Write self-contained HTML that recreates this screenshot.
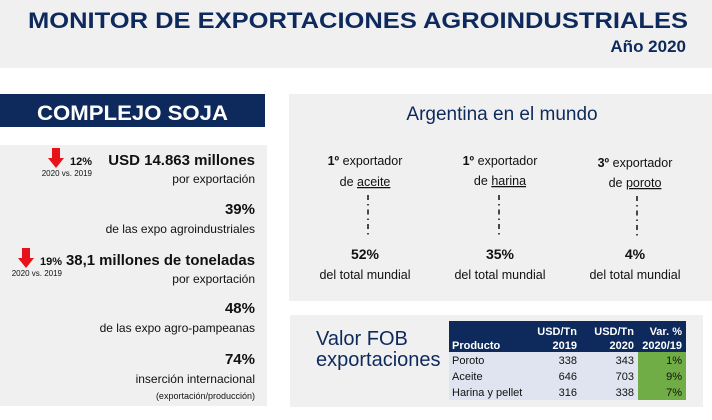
<!DOCTYPE html>
<html><head><meta charset="utf-8"><style>
html,body{margin:0;padding:0;background:#fff;}
svg{display:block;font-family:"Liberation Sans",sans-serif;}
</style></head><body>
<svg width="712" height="420" viewBox="0 0 712 420" xmlns="http://www.w3.org/2000/svg">
<rect x="0" y="0" width="712" height="68" fill="#f0f0f0"/>
<text x="28" y="28" font-size="22.5" font-weight="bold" fill="#0e2a5c" textLength="660" lengthAdjust="spacingAndGlyphs">MONITOR DE EXPORTACIONES AGROINDUSTRIALES</text>
<text x="686" y="52" font-size="17" font-weight="bold" fill="#0e2a5c" text-anchor="end">Año 2020</text>

<rect x="0" y="94" width="265" height="33" fill="#0e2a5c"/>
<text x="37" y="120" font-size="21" font-weight="bold" fill="#fff" textLength="191" lengthAdjust="spacingAndGlyphs">COMPLEJO SOJA</text>

<rect x="0" y="145" width="267" height="261" fill="#f0f0f0"/>
<g fill="#111" text-anchor="end">
<text x="255" y="165" font-size="15" font-weight="bold">USD 14.863 millones</text>
<text x="255" y="183" font-size="12">por exportación</text>
<text x="255" y="214" font-size="15" font-weight="bold">39%</text>
<text x="255" y="233" font-size="12">de las expo agroindustriales</text>
<text x="255" y="265" font-size="15" font-weight="bold" textLength="189" lengthAdjust="spacingAndGlyphs">38,1 millones de toneladas</text>
<text x="255" y="283" font-size="12">por exportación</text>
<text x="255" y="313" font-size="15" font-weight="bold">48%</text>
<text x="255" y="332" font-size="12">de las expo agro-pampeanas</text>
<text x="255" y="364" font-size="15" font-weight="bold">74%</text>
<text x="255" y="383" font-size="12">inserción internacional</text>
<text x="255" y="399" font-size="9">(exportación/producción)</text>
<text x="92" y="165" font-size="11" font-weight="bold">12%</text>
<text x="92" y="176" font-size="8">2020 vs. 2019</text>
<text x="62" y="265" font-size="11" font-weight="bold">19%</text>
<text x="62" y="276" font-size="8">2020 vs. 2019</text>
</g>
<polygon points="52,148 60,148 60,158 64,158 56,168 48,158 52,158" fill="#e8121b"/>
<polygon points="22,248 30,248 30,258 34,258 26,268 18,258 22,258" fill="#e8121b"/>

<rect x="289" y="94" width="423" height="207" fill="#f0f0f0"/>
<text x="502" y="120" font-size="19" fill="#0e2a5c" text-anchor="middle">Argentina en el mundo</text>
<g fill="#111" text-anchor="middle" font-size="12.5">
<text x="365" y="165"><tspan font-weight="bold">1º</tspan> exportador</text>
<text x="365" y="186">de <tspan text-decoration="underline">aceite</tspan></text>
<text x="365" y="259" font-size="14" font-weight="bold">52%</text>
<text x="365" y="279">del total mundial</text>
<text x="500" y="165"><tspan font-weight="bold">1º</tspan> exportador</text>
<text x="500" y="185">de <tspan text-decoration="underline">harina</tspan></text>
<text x="500" y="259" font-size="14" font-weight="bold">35%</text>
<text x="500" y="279">del total mundial</text>
<text x="635" y="167"><tspan font-weight="bold">3º</tspan> exportador</text>
<text x="635" y="187">de <tspan text-decoration="underline">poroto</tspan></text>
<text x="635" y="259" font-size="14" font-weight="bold">4%</text>
<text x="635" y="279">del total mundial</text>
</g>
<g stroke="#111" stroke-width="1.5" stroke-dasharray="5,4,1.5,4">
<line x1="368" y1="195" x2="368" y2="238"/>
<line x1="499" y1="195" x2="499" y2="238"/>
<line x1="637" y1="196" x2="637" y2="238"/>
</g>

<rect x="290" y="315" width="413" height="92" fill="#f0f0f0"/>
<text x="316" y="345" font-size="20" fill="#0e2a5c">Valor FOB</text>
<text x="316" y="366" font-size="20" fill="#0e2a5c">exportaciones</text>
<rect x="449" y="321" width="237" height="31" fill="#0e2a5c"/>
<rect x="449" y="352" width="189" height="48" fill="#dfe4f0"/>
<rect x="638" y="352" width="48" height="48" fill="#70ad47"/>
<g font-size="11" font-weight="bold" fill="#fff" text-anchor="end">
<text x="452" y="349" text-anchor="start">Producto</text>
<text x="577" y="335">USD/Tn</text><text x="577" y="349">2019</text>
<text x="634" y="335">USD/Tn</text><text x="634" y="349">2020</text>
<text x="682" y="335">Var. %</text><text x="682" y="349">2020/19</text>
</g>
<g font-size="11" fill="#111" text-anchor="end">
<text x="452" y="364" text-anchor="start">Poroto</text><text x="577" y="364">338</text><text x="634" y="364">343</text><text x="682" y="364">1%</text>
<text x="452" y="380" text-anchor="start">Aceite</text><text x="577" y="380">646</text><text x="634" y="380">703</text><text x="682" y="380">9%</text>
<text x="452" y="396" text-anchor="start">Harina y pellet</text><text x="577" y="396">316</text><text x="634" y="396">338</text><text x="682" y="396">7%</text>
</g>
</svg>
</body></html>
